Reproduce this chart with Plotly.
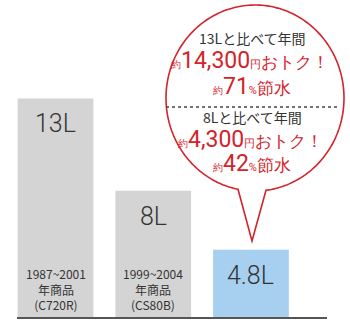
import numpy as np
import plotly.graph_objects as go

# ---- data ----
categories = ["C720R", "CS80B", "NEW"]
volumes = [13, 8, 4.8]
volume_labels = ["13L", "8L", "4.8L"]
period_labels = ["1987~2001", "1999~2004", ""]
product_labels = ["年商品", "年商品", ""]
model_labels = ["(C720R)", "(CS80B)", ""]
bar_colors = ["#d4d4d4", "#d4d4d4", "#a6cff0"]

compare_heads = ["13Lと比べて年間", "8Lと比べて年間"]
yen_savings = ["14,300", "4,300"]
water_savings = ["71", "42"]

RED = "#d3232b"
DARK = "#333333"
JP = "Noto Sans CJK JP"

# plot geometry (pixels) for decoration placement
W, H = 350, 323
L, R, T, B = 17, 23, 0, 6
PW, PH = W - L - R, H - T - B


def px(x):
    return (x - L) / PW


def py(y):
    return (H - B - y) / PH


fig = go.Figure()
fig.add_trace(go.Bar(
    x=categories, y=volumes, marker_color=bar_colors, width=0.775,
    marker_line_width=0, hoverinfo="skip"))

# labels inside bars
for c, v, t in zip(categories, volumes, volume_labels):
    fig.add_annotation(x=c, y=v, xref="x", yref="y", text=t, showarrow=False,
                       yanchor="top", yshift=-9,
                       font=dict(family="Roboto", size=25, color=DARK, weight=300))
for c, a, b, m in zip(categories, period_labels, product_labels, model_labels):
    if a:
        fig.add_annotation(x=c, y=py(315), xref="x", yref="paper",
                           text="<br>".join([a, b, m]),
                           showarrow=False, yanchor="bottom", align="center",
                           font=dict(family=JP, size=12, color=DARK))

# callout bubble (ellipse + pointer)
cx, cy, rx, ry = 255, 98, 89, 93
tip = (252, 241)
xl, xr = 238, 266
a_r = np.arctan2(np.sqrt(max(0, 1 - ((xr - cx) / rx) ** 2)), (xr - cx) / rx)
a_l = np.arctan2(np.sqrt(max(0, 1 - ((xl - cx) / rx) ** 2)), (xl - cx) / rx)
angs = np.linspace(a_r, a_l - 2 * np.pi, 200)
pts = [(cx + rx * np.cos(a), cy + ry * np.sin(a)) for a in angs]
path = "M {:.5f},{:.5f} ".format(px(tip[0]), py(tip[1]))
for (x, y) in pts:
    path += "L {:.5f},{:.5f} ".format(px(x), py(y))
path += "Z"
fig.add_shape(type="path", path=path, xref="paper", yref="paper",
              line=dict(color=RED, width=1.6), fillcolor="white", layer="above")

# dotted separator
fig.add_shape(type="line", xref="paper", yref="paper", x0=px(166), x1=px(337),
              y0=py(107), y1=py(107), line=dict(color="#444444", width=1.5, dash="dot"))

line_ys = [(38, 60, 87), (117, 139, 163)]
for head, yen, pct, (y1, y2, y3) in zip(compare_heads, yen_savings, water_savings, line_ys):
    fig.add_annotation(x=px(252), y=py(y1), xref="paper", yref="paper", text=head,
                       showarrow=False, xanchor="center", yanchor="middle",
                       font=dict(family=JP, size=14, color=DARK))
    fig.add_annotation(
        x=px(250), y=py(y2), xref="paper", yref="paper", showarrow=False,
        xanchor="center", yanchor="middle",
        text=("<span style='font-size:10px'>約</span>" + yen +
              "<span style='font-size:11px'>円</span><span style='font-size:17px'>おトク！</span>"),
        font=dict(family="Roboto", size=23, color=RED))
    fig.add_annotation(
        x=px(252), y=py(y3), xref="paper", yref="paper", showarrow=False,
        xanchor="center", yanchor="middle",
        text=("<span style='font-size:10px'>約</span>" + pct +
              "<span style='font-size:11px'>%</span><span style='font-size:17px'>節水</span>"),
        font=dict(family="Roboto", size=23, color=RED))

fig.update_layout(
    width=W, height=H, margin=dict(l=L, r=R, t=T, b=B, pad=0),
    paper_bgcolor="white", plot_bgcolor="white", showlegend=False,
    bargap=0.2,
    xaxis=dict(type="category", range=[-0.394, 2.778], showticklabels=False,
               ticks="", showgrid=False, zeroline=False,
               showline=True, linecolor="#555555", linewidth=2),
    yaxis=dict(range=[1.15, 18.34], visible=False, showgrid=False, zeroline=False),
)

fig.write_html("out.html")
